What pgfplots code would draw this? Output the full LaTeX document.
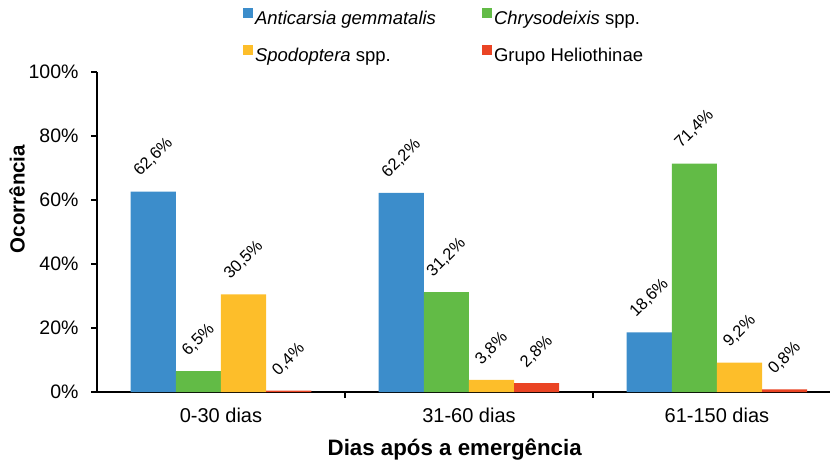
\documentclass[border=0pt]{standalone}
\usepackage{pgfplots}
\pgfplotsset{compat=1.18}
\usepackage{fontspec}
\setmainfont{Liberation Sans}

\definecolor{cAnt}{HTML}{3C8DCB}
\definecolor{cChr}{HTML}{62BB46}
\definecolor{cSpo}{HTML}{FDBE2A}
\definecolor{cHel}{HTML}{EA4424}

\begin{document}
\begin{tikzpicture}
\begin{axis}[
  at={(97pt,71pt)}, anchor=south west,
  scale only axis, width=733pt, height=320pt,
  xmin=-0.5, xmax=2.456, ymin=0, ymax=100,
  axis x line=bottom, axis y line=left,
  axis line style={-, line width=2pt, black},
  ybar, bar width=0.182,
  tick align=outside, major tick length=6pt,
  tick style={line width=2pt, black},
  xtick={0,1,2},
  xticklabels={0-30 dias,31-60 dias,61-150 dias},
  xtick style={draw=none},
  extra x ticks={0.5,1.5},
  extra x tick labels={},
  extra x tick style={xtick style={draw=black}},
  xticklabel style={font=\fontsize{20}{23}\selectfont, anchor=base, yshift=-24pt},
  ytick={0,20,40,60,80,100},
  yticklabels={0\%,20\%,40\%,60\%,80\%,100\%},
  yticklabel style={font=\fontsize{19.5}{23}\selectfont, xshift=-9pt},
  xlabel={Dias após a emergência},
  xlabel style={font=\bfseries\fontsize{22.3}{26}\selectfont, at={(axis description cs:0.488,-0.18)}, anchor=center},
  ylabel={Ocorrência},
  ylabel style={font=\bfseries\fontsize{20.5}{24}\selectfont, at={(axis description cs:-0.109,0.603)}, anchor=center},
  point meta=explicit symbolic,
  nodes near coords={\rotatebox{45}{\pgfplotspointmeta}},
  every node near coord/.append style={font=\fontsize{16.5}{19}\selectfont, inner sep=0pt, anchor=south, yshift=13pt},
  legend columns=2,
  legend cell align=left,
  legend image code/.code={\fill[#1] (0pt,1.5pt) rectangle (10pt,11.5pt);},
  legend style={draw=none, fill=none, at={(axis description cs:0.199,1.2)}, anchor=north west,
    inner sep=0pt, row sep=16pt,
    nodes={font=\fontsize{18.5}{22}\selectfont, inner xsep=2pt, inner ysep=0pt, text height=14pt, text depth=4pt},
    /tikz/every even column/.append style={column sep=44pt}},
]
\addplot[fill=cAnt, draw=none, bar shift=-0.273] coordinates {(0,62.6) [62,6\%] (1,62.2) [62,2\%] (2,18.6) [18,6\%]};
\addplot[fill=cChr, draw=none, bar shift=-0.091] coordinates {(0,6.5) [6,5\%] (1,31.2) [31,2\%] (2,71.4) [71,4\%]};
\addplot[fill=cSpo, draw=none, bar shift=0.091] coordinates {(0,30.5) [30,5\%] (1,3.8) [3,8\%] (2,9.2) [9,2\%]};
\addplot[fill=cHel, draw=none, bar shift=0.273] coordinates {(0,0.4) [0,4\%] (1,2.8) [2,8\%] (2,0.8) [0,8\%]};
\legend{\textit{Anticarsia gemmatalis}, \textit{Chrysodeixis} spp., \textit{Spodoptera} spp., Grupo Heliothinae}
\end{axis}
\pgfresetboundingbox
\useasboundingbox (0,0) rectangle (832pt,463pt);
\end{tikzpicture}
\end{document}
